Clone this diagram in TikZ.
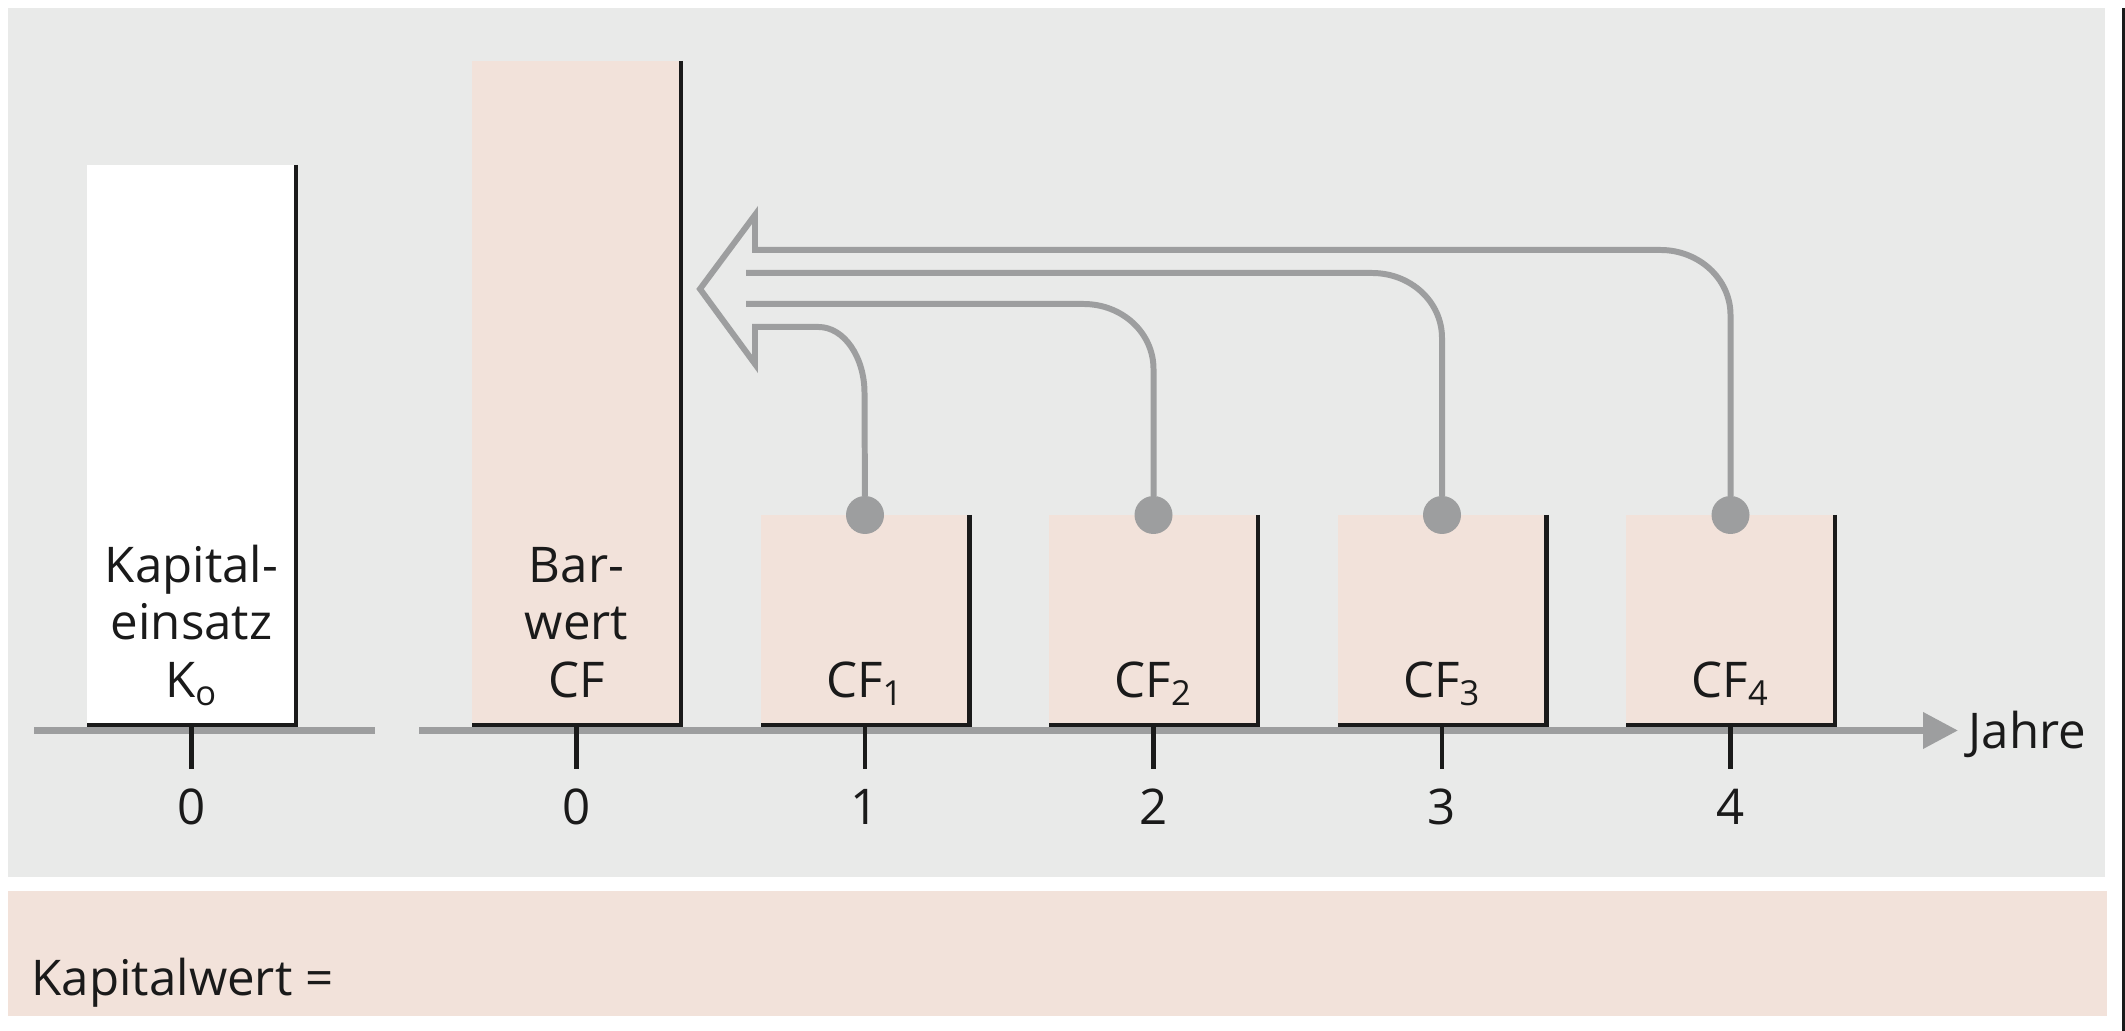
\documentclass[tikz,border=0pt]{standalone}
\usepackage{fontspec}
\setmainfont{Open Sans}
\usepackage{tikz}
\usetikzlibrary{positioning, arrows.meta}
\usepackage{xcolor}

\definecolor{panelgray}{HTML}{E9EAE9}
\definecolor{rose}{HTML}{F2E2DA}
\definecolor{linegray}{HTML}{9D9E9F}
\definecolor{ink}{HTML}{1A1A1A}

\tikzset{
  bar/.style={fill=#1, inner sep=0pt, outer sep=0pt, minimum width=2.09cm, anchor=south west},
  baredge/.style={draw=ink, line width=1.3pt},
  flow/.style={draw=linegray, line width=1.7pt, line join=miter},
  tickmark/.style={draw=ink, line width=1.2pt},
  dot/.style={circle, fill=linegray, minimum size=0.38cm, inner sep=0pt, outer sep=0pt},
  lbl/.style={font=\fontsize{14}{16.5}\selectfont, text=ink, inner sep=0pt, align=center},
}

\begin{document}
\begin{tikzpicture}
\useasboundingbox (0,0) rectangle (21.25,10.31);

% panels
\fill[panelgray] (0.08,1.54) rectangle (21.05,10.23);
\fill[rose] (0.08,0.15) rectangle (21.07,1.40);
\draw[ink, line width=1pt] (21.235,0) -- (21.235,10.23);

% axes
\coordinate (a0) at (0.34,3.005);
\coordinate (a1) at (3.75,3.005);
\coordinate (b0) at (4.19,3.005);
\coordinate (b1) at (19.58,3.005);
\draw[linegray, line width=2pt] (a0) -- (a1);
\draw[linegray, line width=2pt, -{Triangle[length=0.35cm, width=0.35cm]}] (b0) -- (b1);
\node[lbl, anchor=base west] (jahre) at (19.68,2.82) {Jahre};

% bars
\node[bar=white, minimum height=5.60cm] (ke) at (0.87,3.06) {};
\node[bar=rose, minimum height=6.64cm] (bw) at (4.72,3.06) {};
\foreach \i in {1,...,4}
  \node[bar=rose, minimum height=2.10cm] (cf\i) at ({4.72+2.885*\i},3.06) {};

\foreach \n/\t in {ke/0, bw/0, cf1/1, cf2/2, cf3/3, cf4/4} {
  \draw[baredge] (\n.north east) -- (\n.south east) -- (\n.south west);
  \draw[tickmark] (\n.south) -- ++(0,-0.44);
  \node[lbl, anchor=base] (n\n) at ([yshift=-1.00cm]\n.south) {\t};
}

% labels
\node[lbl, anchor=base] (kt) at ([yshift=0.27cm]ke.south) {Kapital-\\einsatz\\K\textsubscript{o}};
\node[lbl, anchor=base] (bt) at ([yshift=0.27cm]bw.south) {Bar-\\wert\\CF};
\foreach \i in {1,...,4}
  \node[lbl, anchor=base] (ct\i) at ([yshift=0.27cm]cf\i.south) {CF\textsubscript{\i}};

% arrow back to the present value
\coordinate (btop) at (7.55,8.16);
\coordinate (tip) at (7.00,7.42);
\coordinate (bbot) at (7.55,6.67);
\foreach \i in {1,...,4}
  \node[dot] (d\i) at (cf\i.north) {};

\draw[flow] (d4) -- (17.305,7.16) .. controls (17.305,7.52) and (16.99,7.81) .. (16.605,7.81)
  -- (7.55,7.81) -- (btop) -- (tip) -- (bbot) -- (7.55,7.04)
  -- (8.185,7.04) .. controls (8.44,7.04) and (8.645,6.74) .. (8.645,6.38) -- (d1);
\foreach \i/\y in {2/7.27, 3/7.58} {
  \pgfmathsetmacro\cx{5.765+2.885*\i}
  \draw[flow] (7.46,\y) -- ({\cx-0.70},\y) .. controls ({\cx-0.31},\y) and (\cx,{\y-0.29}) .. (\cx,{\y-0.65}) -- (d\i);
}

\node[lbl, anchor=base west] (kw) at (0.31,0.35) {Kapitalwert =};
\end{tikzpicture}
\end{document}
